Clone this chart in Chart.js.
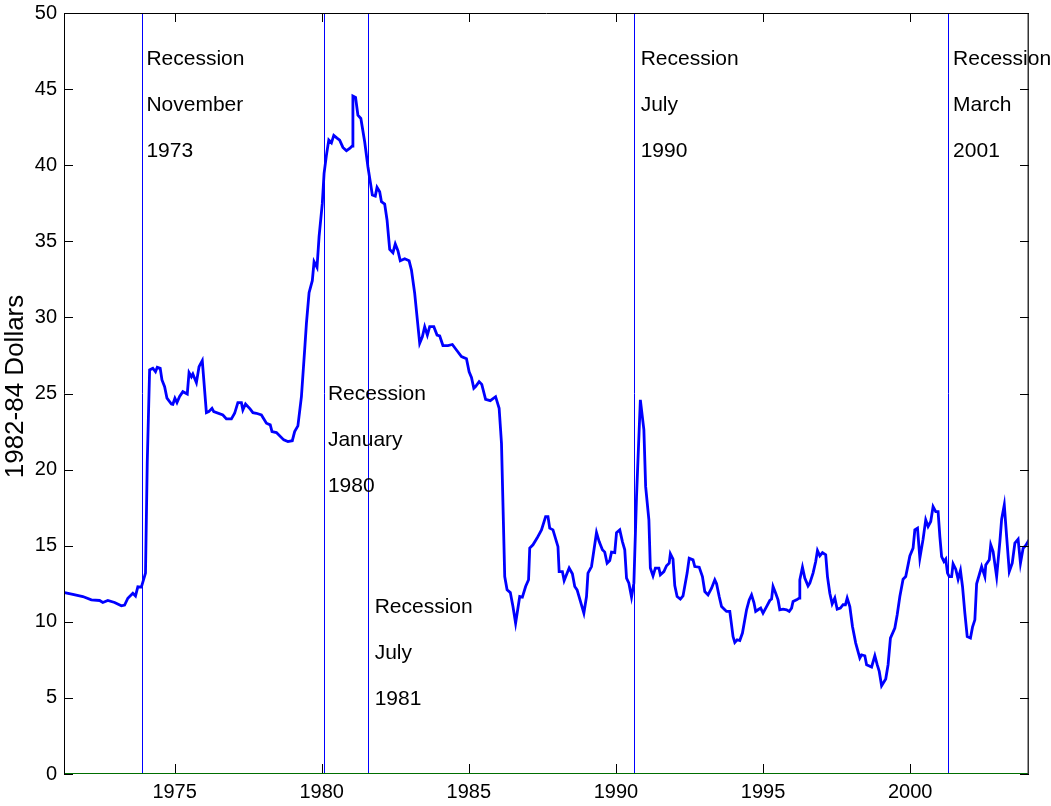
<!DOCTYPE html>
<html><head><meta charset="utf-8">
<script src="https://cdn.jsdelivr.net/npm/chart.js@4.4.1/dist/chart.umd.min.js"></script>
<style>html,body{margin:0;padding:0;background:#fff;overflow:hidden}#wrap{width:1051px;height:806px;position:relative}</style>
</head><body><div id="wrap"><canvas id="c"></canvas></div>
<script>
// ---- data ----
const dates = [
1971.26,1971.54,1971.88,1972.17,1972.45,1972.56,1972.73,1972.96,1973.19,1973.30,
1973.41,1973.58,1973.67,1973.75,1973.87,1974.01,1974.07,1974.15,1974.26,1974.35,
1974.41,1974.51,1974.57,1974.66,1974.74,1974.89,1974.94,1975.01,1975.08,1975.17,
1975.28,1975.43,1975.49,1975.57,1975.62,1975.74,1975.83,1975.94,1976.08,1976.16,
1976.27,1976.33,1976.64,1976.76,1976.93,1977.04,1977.15,1977.27,1977.32,1977.41,
1977.57,1977.66,1977.78,1977.95,1978.12,1978.25,1978.31,1978.46,1978.71,1978.85,
1979.00,1979.08,1979.19,1979.31,1979.42,1979.48,1979.57,1979.68,1979.74,1979.84,
1979.91,1980.02,1980.08,1980.16,1980.24,1980.33,1980.41,1980.52,1980.61,1980.72,
1980.84,1980.95,1981.03,1981.06,1981.15,1981.23,1981.33,1981.46,1981.57,1981.65,
1981.72,1981.82,1981.88,1981.97,1982.03,1982.14,1982.22,1982.31,1982.42,1982.50,
1982.59,1982.67,1982.82,1982.97,1983.05,1983.16,1983.33,1983.42,1983.50,1983.59,
1983.67,1983.81,1983.92,1984.01,1984.12,1984.29,1984.44,1984.58,1984.75,1984.92,
1985.01,1985.09,1985.17,1985.23,1985.35,1985.44,1985.57,1985.73,1985.91,1986.03,
1986.11,1986.22,1986.30,1986.41,1986.50,1986.59,1986.73,1986.82,1986.93,1987.03,
1987.07,1987.18,1987.32,1987.47,1987.61,1987.69,1987.75,1987.86,1988.03,1988.07,
1988.18,1988.24,1988.41,1988.52,1988.60,1988.68,1988.91,1989.00,1989.05,1989.17,
1989.34,1989.43,1989.54,1989.62,1989.70,1989.79,1989.85,1989.96,1990.02,1990.13,
1990.22,1990.30,1990.36,1990.44,1990.53,1990.61,1990.70,1990.83,1990.95,1991.01,
1991.12,1991.17,1991.26,1991.34,1991.46,1991.51,1991.63,1991.72,1991.81,1991.85,
1991.94,1992.00,1992.08,1992.19,1992.28,1992.42,1992.49,1992.62,1992.68,1992.83,
1992.94,1993.02,1993.13,1993.25,1993.36,1993.42,1993.51,1993.59,1993.70,1993.76,
1993.87,1993.93,1993.98,1994.04,1994.12,1994.21,1994.30,1994.44,1994.53,1994.61,
1994.69,1994.75,1994.83,1994.92,1995.00,1995.12,1995.23,1995.29,1995.34,1995.43,
1995.51,1995.57,1995.68,1995.80,1995.89,1995.97,1996.02,1996.14,1996.23,1996.25,
1996.34,1996.42,1996.53,1996.59,1996.70,1996.79,1996.85,1996.93,1997.02,1997.13,
1997.19,1997.27,1997.35,1997.44,1997.52,1997.63,1997.72,1997.80,1997.86,1997.95,
1998.04,1998.15,1998.29,1998.35,1998.46,1998.52,1998.69,1998.80,1998.88,1998.95,
1999.03,1999.17,1999.25,1999.33,1999.48,1999.56,1999.65,1999.76,1999.85,1999.93,
1999.99,2000.10,2000.16,2000.25,2000.33,2000.44,2000.53,2000.61,2000.70,2000.78,
2000.87,2000.95,2001.01,2001.07,2001.15,2001.21,2001.27,2001.33,2001.41,2001.46,
2001.55,2001.63,2001.71,2001.78,2001.86,2001.94,2002.05,2002.12,2002.20,2002.26,
2002.35,2002.43,2002.54,2002.57,2002.69,2002.74,2002.82,2002.94,2003.05,2003.11,
2003.20,2003.28,2003.37,2003.47,2003.56,2003.67,2003.75,2003.84,2003.92,2004.04
];
const realPrice = [
11.92,11.80,11.66,11.44,11.40,11.27,11.40,11.27,11.05,11.10,
11.55,11.88,11.70,12.30,12.28,13.20,20.50,26.55,26.66,26.43,
26.72,26.66,25.89,25.45,24.69,24.31,24.29,24.69,24.40,24.80,
25.12,24.97,26.37,26.10,26.28,25.71,26.76,27.16,23.74,23.81,
24.03,23.81,23.59,23.33,23.33,23.70,24.40,24.40,23.92,24.31,
23.97,23.74,23.70,23.59,23.05,22.94,22.50,22.43,21.95,21.84,
21.90,22.50,22.87,24.80,27.86,29.61,31.62,32.41,33.66,33.29,
35.30,37.49,39.46,40.66,41.65,41.47,41.96,41.78,41.65,41.17,
40.95,41.10,41.25,44.54,44.45,43.29,43.07,41.54,39.90,38.91,
38.04,37.97,38.54,38.25,37.60,37.45,36.40,34.47,34.25,34.82,
34.38,33.72,33.85,33.72,33.11,31.58,28.30,28.73,29.39,28.84,
29.39,29.39,28.84,28.78,28.15,28.15,28.22,27.86,27.43,27.28,
26.43,26.05,25.34,25.45,25.78,25.60,24.62,24.53,24.79,24.03,
21.73,12.97,12.10,11.92,11.00,9.91,11.66,11.62,12.32,12.76,
14.84,15.06,15.50,16.04,16.91,16.91,16.15,16.04,14.94,13.30,
13.30,12.71,13.53,13.15,12.32,12.10,10.57,11.66,13.20,13.63,
15.86,15.27,14.73,14.58,13.85,14.03,14.58,14.55,15.86,16.04,
15.27,14.73,12.87,12.54,11.62,12.54,18.23,24.58,22.61,18.88,
16.70,13.53,13.02,13.53,13.53,13.09,13.30,13.68,13.85,14.47,
14.12,12.38,11.66,11.49,11.70,13.20,14.18,14.07,13.63,13.59,
12.97,11.99,11.77,12.21,12.76,12.50,11.66,11.00,10.79,10.68,
10.68,9.80,9.03,8.64,8.82,8.77,9.26,10.79,11.44,11.77,
11.27,10.68,10.79,10.90,10.57,11.00,11.40,11.49,12.32,11.88,
11.44,10.79,10.83,10.79,10.68,10.90,11.33,11.44,11.56,12.76,
13.59,12.87,12.36,12.54,13.20,13.96,14.68,14.33,14.55,14.40,
12.97,11.88,11.18,11.56,10.83,10.90,11.12,11.12,11.56,11.00,
9.69,8.60,7.62,7.83,7.77,7.18,7.03,7.77,7.18,6.74,
5.80,6.24,7.18,8.93,9.59,10.46,11.66,12.80,12.97,13.74,
14.33,14.84,16.04,16.15,14.18,15.43,16.70,16.26,16.59,17.57,
17.24,17.24,15.60,14.29,13.96,14.12,13.20,12.97,12.97,13.81,
13.46,12.80,13.37,12.32,10.57,9.03,8.93,9.65,10.13,12.50,
13.09,13.63,12.97,13.74,14.07,15.06,14.62,12.97,15.27,16.74,
17.68,15.60,13.30,13.85,15.17,15.43,13.85,14.84,14.99,15.38
];
const xRange = [1971.24, 2004.04];
const yRange = [0, 50];
const xTicks = [1975, 1980, 1985, 1990, 1995, 2000];
const yTicks = [0, 5, 10, 15, 20, 25, 30, 35, 40, 45, 50];
const recessionDates = [1973.89, 1980.07, 1981.57, 1990.62, 2001.28];
const recessionMonths = ['November', 'January', 'July', 'July', 'March'];
const recessionYears = ['1973', '1980', '1981', '1990', '2001'];
const labelX = [1974.04, 1980.21, 1981.80, 1990.84, 2001.46];
const labelTop = [47, 25, 11, 47, 47];
const labelStep = 3;
const yTitle = '1982-84 Dollars';

// ---- chart ----
const FONT = "'Liberation Sans', Arial, Helvetica, sans-serif";
const series = dates.map((d, i) => ({x: d, y: realPrice[i]}));
const zeroLine = xRange.map(x => ({x: x, y: 0}));

const decor = {
  id: 'decor',
  beforeDatasetsDraw(chart) {
    const {ctx, chartArea: a, scales: {x}} = chart;
    ctx.save();
    ctx.strokeStyle = '#0000ff';
    ctx.lineWidth = 1;
    recessionDates.forEach(d => {
      const px = Math.round(x.getPixelForValue(d)) + 0.5;
      ctx.beginPath(); ctx.moveTo(px, a.top); ctx.lineTo(px, a.bottom); ctx.stroke();
    });
    ctx.restore();
  },
  afterDraw(chart) {
    const {ctx, chartArea: a, scales: {x, y}} = chart;
    ctx.save();
    // frame
    ctx.strokeStyle = '#000';
    ctx.lineWidth = 1;
    ctx.beginPath();
    ctx.moveTo(a.left + 0.5, a.bottom); ctx.lineTo(a.left + 0.5, a.top + 0.5);
    ctx.lineTo(a.right - 0.5, a.top + 0.5); ctx.lineTo(a.right - 0.5, a.bottom);
    ctx.stroke();
    ctx.strokeStyle = '#333';
    ctx.lineWidth = 1.5;
    ctx.beginPath(); ctx.moveTo(a.right - 0.75, a.top); ctx.lineTo(a.right - 0.75, a.bottom); ctx.stroke();
    // inward ticks
    ctx.strokeStyle = '#000';
    ctx.lineWidth = 1;
    const tl = 9;
    yTicks.forEach(v => {
      const py = Math.round(y.getPixelForValue(v)) + 0.5;
      ctx.beginPath();
      ctx.moveTo(a.left, py); ctx.lineTo(a.left + tl, py);
      ctx.moveTo(a.right, py); ctx.lineTo(a.right - tl, py);
      ctx.stroke();
    });
    xTicks.forEach(v => {
      const px = Math.round(x.getPixelForValue(v)) + 0.5;
      ctx.beginPath();
      ctx.moveTo(px, a.top); ctx.lineTo(px, a.top + tl);
      ctx.moveTo(px, a.bottom - 1); ctx.lineTo(px, a.bottom - 1 - tl);
      ctx.stroke();
    });
    // recession labels
    ctx.fillStyle = '#000';
    ctx.font = '21px ' + FONT;
    ctx.textAlign = 'left';
    ctx.textBaseline = 'middle';
    recessionDates.forEach((d, i) => {
      const px = x.getPixelForValue(labelX[i]);
      const lines = ['Recession', recessionMonths[i], recessionYears[i]];
      lines.forEach((t, k) => {
        ctx.fillText(t, px, y.getPixelForValue(labelTop[i] - k * labelStep) + 1);
      });
    });
    // y title
    ctx.font = '26px ' + FONT;
    ctx.textAlign = 'center';
    ctx.textBaseline = 'alphabetic';
    ctx.translate(23, (a.top + a.bottom) / 2 - 7);
    ctx.rotate(-Math.PI / 2);
    ctx.fillText(yTitle, 0, 0);
    ctx.restore();
  }
};

function noPad(s) { s.paddingTop = 0; s.paddingBottom = 0; s.paddingLeft = 0; s.paddingRight = 0; }

new Chart(document.getElementById('c'), {
  type: 'line',
  data: {
    datasets: [
      {data: zeroLine, borderColor: 'rgb(0,110,0)', borderWidth: 2, pointRadius: 0, order: 2},
      {data: series, borderColor: '#0000ff', borderWidth: 2.8, pointRadius: 0, tension: 0, order: 1}
    ]
  },
  options: {
    responsive: true,
    maintainAspectRatio: false,
    animation: false,
    layout: {padding: {top: 13, right: 22, left: 0, bottom: 0}},
    plugins: {legend: {display: false}, tooltip: {enabled: false}},
    scales: {
      x: {
        type: 'linear', min: xRange[0], max: xRange[1],
        grid: {display: false, drawTicks: false, tickLength: 0}, border: {display: false},
        afterBuildTicks: s => { s.ticks = xTicks.map(v => ({value: v})); },
        afterFit: s => { s.height = 32; noPad(s); },
        ticks: {font: {family: FONT, size: 20}, color: '#000', padding: 6, maxRotation: 0, autoSkip: false, callback: v => String(v)}
      },
      y: {
        type: 'linear', min: yRange[0], max: yRange[1],
        grid: {display: false, drawTicks: false, tickLength: 0}, border: {display: false},
        afterBuildTicks: s => { s.ticks = yTicks.map(v => ({value: v})); },
        afterFit: s => { s.width = 64; noPad(s); },
        ticks: {font: {family: FONT, size: 20}, color: '#000', padding: 7, autoSkip: false, callback: v => String(v)}
      }
    }
  },
  plugins: [decor]
});
</script></body></html>
